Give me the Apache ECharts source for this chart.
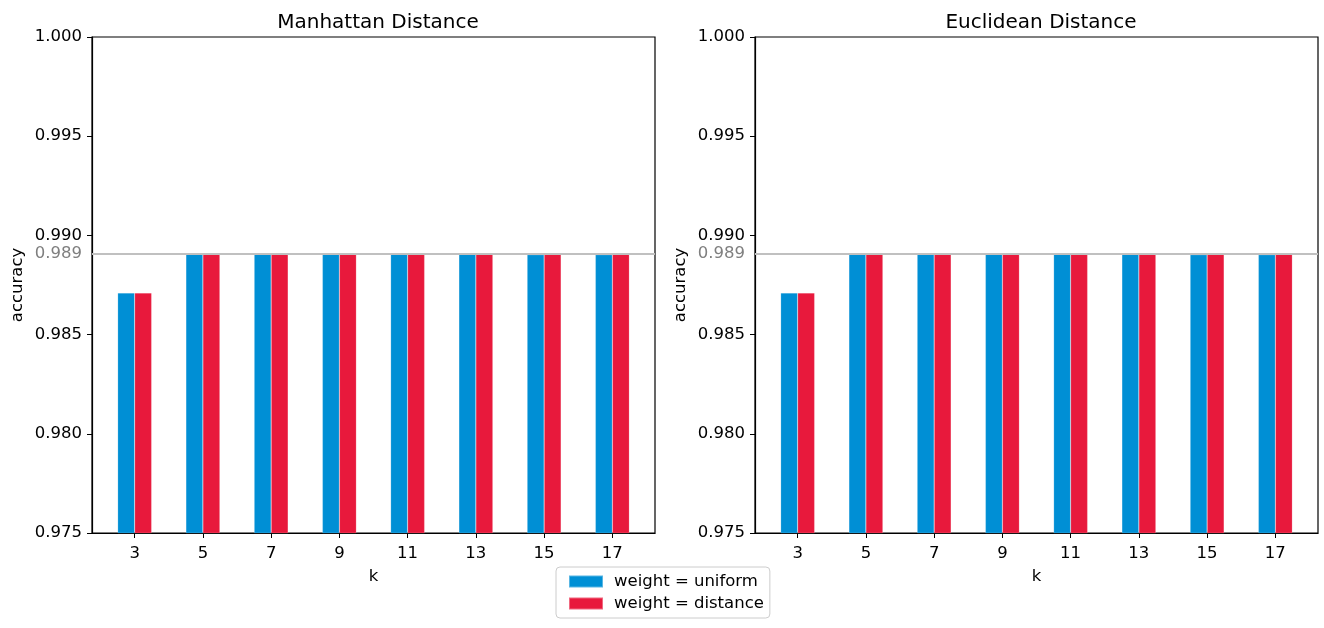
<!DOCTYPE html>
<html>
<head>
<meta charset="utf-8">
<script src="https://cdn.jsdelivr.net/npm/echarts@6/dist/echarts.min.js"></script>
<style>
  html, body { margin: 0; padding: 0; background: #fff; }
  #chart { width: 1324px; height: 628px; }
</style>
</head>
<body>
<div id="chart"></div>
<script>
// k 值
var kValues = [3, 5, 7, 9, 11, 13, 15, 17];
// 曼哈顿距离
var manhattanUniform  = [0.9871, 0.9891, 0.9891, 0.9891, 0.9891, 0.9891, 0.98903, 0.98903];
var manhattanDistance = [0.9871, 0.9891, 0.9891, 0.9891, 0.9891, 0.9891, 0.9891, 0.9891];
// 欧氏距离
var euclideanUniform  = [0.9871, 0.9891, 0.9891, 0.9891, 0.9891, 0.9891, 0.98903, 0.98903];
var euclideanDistance = [0.9871, 0.9891, 0.9891, 0.9891, 0.9891, 0.9891, 0.9891, 0.9891];
var bestLine = 0.9891;
var titles = ['Manhattan Distance', 'Euclidean Distance'];
var seriesNames = ['weight = uniform', 'weight = distance'];

var FONT = 'DejaVu Sans';
var FS = 16.5;
var colors = ['#008fd5', '#e8193c'];

function pairs(vals){
    var res = [];
    for (var i = 0; i < kValues.length; i++) {
        res.push([kValues[i], vals[i]]);
    }
    return res;
}

var grids = [
    {left: 92, top: 37, width: 563, height: 496},
    {left: 755, top: 37, width: 563, height: 496}
];

function xAxisFor(idx){
    return {
        type: 'value', gridIndex: idx, min: 1.75, max: 18.25,
        name: 'k', nameLocation: 'middle', nameGap: 35,
        nameTextStyle: {fontFamily: FONT, fontSize: FS, color: '#000'},
        axisLine: {show: true, onZero: false, lineStyle: {color: '#000', width: 1.2}},
        axisTick: {show: true, length: 5, inside: false, customValues: kValues, lineStyle: {color: '#000'}},
        axisLabel: {customValues: kValues, fontFamily: FONT, fontSize: FS, color: '#000', margin: 12},
        splitLine: {show: false}
    };
}
function yAxisFor(idx){
    return {
        type: 'value', gridIndex: idx, min: 0.975, max: 1.0, interval: 0.005,
        name: 'accuracy', nameLocation: 'middle', nameGap: 66, nameRotate: 90,
        nameTextStyle: {fontFamily: FONT, fontSize: FS, color: '#000'},
        axisLine: {show: true, lineStyle: {color: '#000', width: 1.2}},
        axisTick: {show: true, length: 5, lineStyle: {color: '#000'}},
        axisLabel: {fontFamily: FONT, fontSize: FS, color: '#000', margin: 10,
            formatter: function(v){ return v.toFixed(3); }},
        splitLine: {show: false}
    };
}

function barSeries(idx, name, vals, color, withLine){
    var s = {
        name: name, type: 'bar', xAxisIndex: idx, yAxisIndex: idx,
        data: pairs(vals), barWidth: 17, barGap: '0%',
        itemStyle: {color: color, borderColor: 'rgba(255,255,255,0.35)', borderWidth: 0.5},
        emphasis: {disabled: true},
        z: 2
    };
    if (withLine) {
        s.markLine = {
            symbol: 'none', silent: true, animation: false, precision: 5,
            lineStyle: {color: '#c0c0c0', width: 2, type: 'solid'},
            label: {show: true, position: 'start', formatter: '0.989', distance: 10,
                fontFamily: FONT, fontSize: FS, color: '#7f7f7f'},
            data: [{yAxis: bestLine}]
        };
    }
    return s;
}

var myChart = echarts.init(document.getElementById('chart'), null, {renderer: 'canvas'});
var option = {
    animation: false,
    color: colors,
    title: [
        {text: titles[0], left: 373, top: 8, textAlign: 'center',
            textStyle: {fontFamily: FONT, fontSize: 20, fontWeight: 'normal', color: '#000'}},
        {text: titles[1], left: 1036, top: 8, textAlign: 'center',
            textStyle: {fontFamily: FONT, fontSize: 20, fontWeight: 'normal', color: '#000'}}
    ],
    grid: grids.map(function(g){
        return Object.assign({show: true, borderColor: '#000', borderWidth: 1.2, backgroundColor: '#fff'}, g);
    }),
    legend: {
        orient: 'vertical', left: 556, top: 567,
        icon: 'rect', itemWidth: 34, itemHeight: 12, itemGap: 5,
        padding: [6, 6, 6, 12],
        borderColor: '#cccccc', borderWidth: 1, borderRadius: 4,
        textStyle: {fontFamily: FONT, fontSize: FS, color: '#000', padding: [0, 0, 0, 6]},
        data: seriesNames
    },
    xAxis: [xAxisFor(0), xAxisFor(1)],
    yAxis: [yAxisFor(0), yAxisFor(1)],
    series: [
        barSeries(0, seriesNames[0], manhattanUniform, colors[0], true),
        barSeries(0, seriesNames[1], manhattanDistance, colors[1], false),
        barSeries(1, seriesNames[0], euclideanUniform, colors[0], true),
        barSeries(1, seriesNames[1], euclideanDistance, colors[1], false)
    ]
};
myChart.setOption(option);
</script>
</body>
</html>
